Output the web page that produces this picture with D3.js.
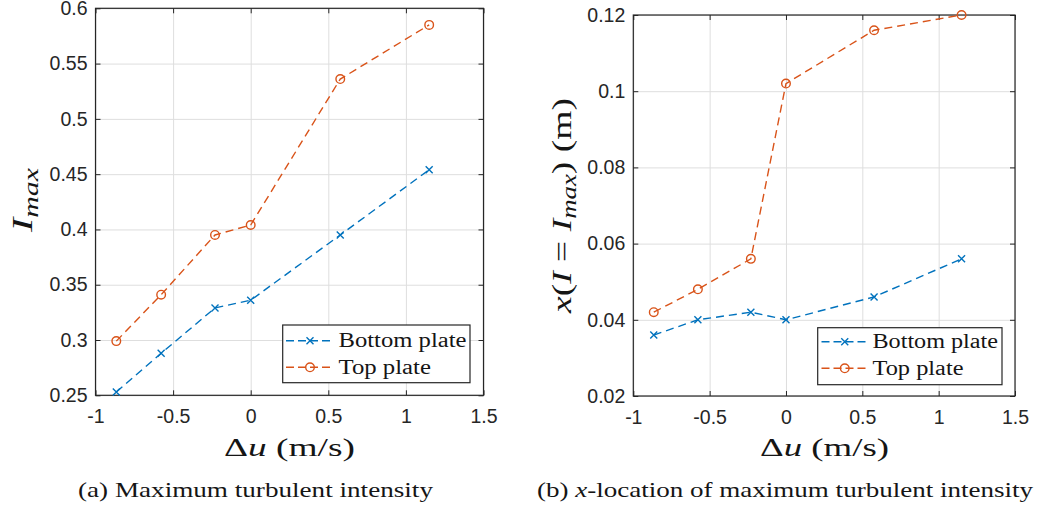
<!DOCTYPE html>
<html>
<head>
<meta charset="utf-8">
<script src="https://cdn.jsdelivr.net/npm/d3@7"></script>
<style>
  html, body { margin: 0; padding: 0; background: #fff; }
  svg { display: block; }
  .sans { font-family: "Liberation Sans", Arimo, Arial, Helvetica, sans-serif; }
  .serif { font-family: "Liberation Serif", Tinos, "Times New Roman", serif; }
</style>
</head>
<body>
<svg id="chart" width="1039" height="514"></svg>
<script>
// ---- data ----
const deltaU = [-0.866, -0.577, -0.23, 0, 0.577, 1.15];
const imaxBottom = [0.253, 0.288, 0.329, 0.336, 0.395, 0.454];
const imaxTop = [0.299, 0.341, 0.395, 0.404, 0.536, 0.585];
const xlocBottom = [0.036, 0.040, 0.042, 0.040, 0.046, 0.056];
const xlocTop = [0.042, 0.048, 0.056, 0.102, 0.116, 0.120];
const seriesNames = ["Bottom plate", "Top plate"];
const xTicks = [-1, -0.5, 0, 0.5, 1, 1.5];
const imaxTicks = [0.25, 0.3, 0.35, 0.4, 0.45, 0.5, 0.55, 0.6];
const xlocTicks = [0.02, 0.04, 0.06, 0.08, 0.1, 0.12];

// ---- styles ----
const colors = ["#0072BD", "#D95319"];
const axisColor = "#262626";
const gridColor = "#dedede";
const textColor = "#151515";

const svg = d3.select("#chart");

function drawPanel(cfg) {
  const x = d3.scaleLinear().domain([xTicks[0], xTicks[xTicks.length - 1]]).range([cfg.left, cfg.right]);
  const y = d3.scaleLinear().domain([cfg.yTicks[0], cfg.yTicks[cfg.yTicks.length - 1]]).range([cfg.bottom, cfg.top]);
  const w = cfg.right - cfg.left, h = cfg.bottom - cfg.top;
  const g = svg.append("g");

  // grid
  g.append("g").attr("transform", `translate(0,${cfg.bottom})`)
    .call(d3.axisBottom(x).tickValues(xTicks).tickSize(-h).tickFormat(""))
    .call(s => s.select(".domain").remove())
    .call(s => s.selectAll("line").attr("stroke", gridColor).attr("stroke-width", 1));
  g.append("g").attr("transform", `translate(${cfg.left},0)`)
    .call(d3.axisLeft(y).tickValues(cfg.yTicks).tickSize(-w).tickFormat(""))
    .call(s => s.select(".domain").remove())
    .call(s => s.selectAll("line").attr("stroke", gridColor).attr("stroke-width", 1));

  // axes with inward ticks
  const styleAxis = s => {
    s.attr("font-family", null).attr("font-size", null);
    s.select(".domain").remove();
    s.selectAll("line").attr("stroke", axisColor).attr("stroke-width", 1);
    s.selectAll("text").attr("class", "sans").attr("fill", axisColor).style("font-size", "19.5px");
  };
  g.append("g").attr("transform", `translate(0,${cfg.bottom})`)
    .call(d3.axisBottom(x).tickValues(xTicks).tickSize(-5).tickPadding(14).tickFormat(d => String(d)))
    .call(styleAxis);
  g.append("g").attr("transform", `translate(0,${cfg.top})`)
    .call(d3.axisTop(x).tickValues(xTicks).tickSize(-5).tickFormat(""))
    .call(styleAxis);
  g.append("g").attr("transform", `translate(${cfg.left},0)`)
    .call(d3.axisLeft(y).tickValues(cfg.yTicks).tickSize(-5).tickPadding(8).tickFormat(d => String(d)))
    .call(styleAxis);
  g.append("g").attr("transform", `translate(${cfg.right},0)`)
    .call(d3.axisRight(y).tickValues(cfg.yTicks).tickSize(-5).tickFormat(""))
    .call(styleAxis);

  g.append("rect").attr("x", cfg.left).attr("y", cfg.top).attr("width", w).attr("height", h)
    .attr("fill", "none").attr("stroke", axisColor).attr("stroke-width", 1.2);

  // series
  const line = d3.line().x(d => x(d[0])).y(d => y(d[1]));
  cfg.series.forEach((vals, i) => {
    const pts = deltaU.map((u, k) => [u, vals[k]]);
    g.append("path").datum(pts).attr("d", line)
      .attr("fill", "none").attr("stroke", colors[i]).attr("stroke-width", 1.4)
      .attr("stroke-dasharray", "8,5");
    pts.forEach(p => drawMarker(g, i, x(p[0]), y(p[1])));
  });

  // legend
  const L = cfg.legend;
  g.append("rect").attr("x", L.x0).attr("y", L.y0).attr("width", L.x1 - L.x0).attr("height", L.y1 - L.y0)
    .attr("fill", "#fff").attr("stroke", axisColor).attr("stroke-width", 1.2);
  seriesNames.forEach((name, i) => {
    const yy = L.rows[i];
    g.append("line").attr("x1", L.lx0).attr("x2", L.lx1).attr("y1", yy).attr("y2", yy)
      .attr("stroke", colors[i]).attr("stroke-width", 1.4).attr("stroke-dasharray", "8,4");
    drawMarker(g, i, (L.lx0 + L.lx1) / 2, yy);
    g.append("text").attr("class", "serif").attr("x", L.tx).attr("y", yy + 6.5)
      .attr("textLength", L.tw[i]).attr("lengthAdjust", "spacingAndGlyphs")
      .style("font-size", "20.5px").attr("fill", textColor)
      .text(name);
  });

  // x label
  const xl = g.append("text").attr("class", "serif").attr("x", cfg.xlab.x).attr("y", 455.5)
    .attr("textLength", cfg.xlab.w).attr("lengthAdjust", "spacingAndGlyphs")
    .style("font-size", "24.5px").attr("fill", textColor);
  xl.append("tspan").text("\u0394");
  xl.append("tspan").style("font-style", "italic").text("u");
  xl.append("tspan").text(" (m/s)");

  return { x, y };
}

function drawMarker(g, i, cx, cy) {
  if (i === 0) {
    const r = 3.5;
    g.append("path").attr("d", `M${cx - r},${cy - r}L${cx + r},${cy + r}M${cx - r},${cy + r}L${cx + r},${cy - r}`)
      .attr("stroke", colors[0]).attr("stroke-width", 1.4).attr("fill", "none");
  } else {
    g.append("circle").attr("cx", cx).attr("cy", cy).attr("r", 4.3)
      .attr("fill", "none").attr("stroke", colors[1]).attr("stroke-width", 1.4);
  }
}

// Panel (a)
drawPanel({
  left: 95.5, right: 483.5, top: 8.3, bottom: 395.3,
  yTicks: imaxTicks, series: [imaxBottom, imaxTop],
  legend: { x0: 282.7, x1: 470, y0: 325, y1: 382.7, rows: [340.7, 367.3], lx0: 286, lx1: 334, tx: 338.5, tw: [128, 92.5] },
  xlab: { x: 224, w: 131 }
});
// Panel (b)
drawPanel({
  left: 633.3, right: 1015, top: 15, bottom: 396,
  yTicks: xlocTicks, series: [xlocBottom, xlocTop],
  legend: { x0: 817.7, x1: 1002, y0: 327.7, y1: 384.7, rows: [341.7, 368.3], lx0: 821.5, lx1: 868, tx: 872.5, tw: [125.5, 91] },
  xlab: { x: 760, w: 129 }
});

// y labels
const yl1 = svg.append("text").attr("class", "serif").attr("transform", "translate(32,200) rotate(-90)")
  .attr("text-anchor", "middle").attr("textLength", 64).attr("lengthAdjust", "spacingAndGlyphs")
  .style("font-size", "30px").style("font-style", "italic").attr("fill", textColor);
yl1.append("tspan").text("I");
yl1.append("tspan").attr("dy", 6).style("font-size", "21px").text("max");

const yl2 = svg.append("text").attr("class", "serif").attr("transform", "translate(571,205.5) rotate(-90)")
  .attr("text-anchor", "middle").attr("textLength", 215).attr("lengthAdjust", "spacingAndGlyphs")
  .style("font-size", "28px").attr("fill", textColor);
yl2.append("tspan").style("font-style", "italic").text("x");
yl2.append("tspan").text("(");
yl2.append("tspan").style("font-style", "italic").text("I");
yl2.append("tspan").text(" = ");
yl2.append("tspan").style("font-style", "italic").text("I");
yl2.append("tspan").attr("dy", 5).style("font-size", "20px").style("font-style", "italic").text("max");
yl2.append("tspan").attr("dy", -5).text(") (m)");

// captions
svg.append("text").attr("class", "serif").attr("x", 78).attr("y", 497).attr("textLength", 355).attr("lengthAdjust", "spacingAndGlyphs")
  .style("font-size", "22px").attr("fill", textColor)
  .text("(a) Maximum turbulent intensity");
const cap2 = svg.append("text").attr("class", "serif").attr("x", 537).attr("y", 497).attr("textLength", 496).attr("lengthAdjust", "spacingAndGlyphs")
  .style("font-size", "22px").attr("fill", textColor);
cap2.append("tspan").text("(b) ");
cap2.append("tspan").style("font-style", "italic").text("x");
cap2.append("tspan").text("-location of maximum turbulent intensity");
</script>
</body>
</html>
